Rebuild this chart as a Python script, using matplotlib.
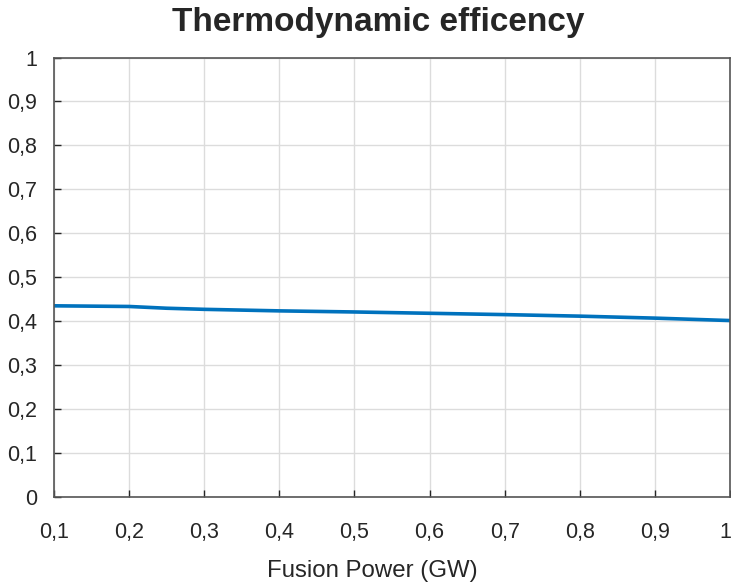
import matplotlib
matplotlib.use("Agg")
import matplotlib.pyplot as plt
import matplotlib.transforms as mtransforms
from matplotlib.ticker import FuncFormatter

power_gw = [0.1, 0.2, 0.25, 0.3, 0.4, 0.5, 0.6, 0.7, 0.8, 0.9, 1.0]
efficiency = [0.435, 0.4335, 0.4295, 0.427, 0.4235, 0.421, 0.418, 0.415, 0.4115, 0.407, 0.4015]
x_ticks = [0.1, 0.2, 0.3, 0.4, 0.5, 0.6, 0.7, 0.8, 0.9, 1.0]
y_ticks = [0, 0.1, 0.2, 0.3, 0.4, 0.5, 0.6, 0.7, 0.8, 0.9, 1.0]

plt.rcParams['font.family'] = ['Liberation Sans', 'DejaVu Sans']
dark = '#262626'

fig = plt.figure(figsize=(7.31, 5.87), dpi=100)
ax = fig.add_axes([54/731, 1-497/587, (730-54)/731, (497-57.5)/587])

ax.plot(power_gw, efficiency, color='#0072BD', lw=2.6)

def fmt(v, pos):
    s = ('%.1f' % v).rstrip('0').rstrip('.')
    return s.replace('.', ',')

ax.set_xlim(0.1, 1.0)
ax.set_ylim(0, 1)
ax.set_xticks(x_ticks)
ax.set_yticks(y_ticks)
ax.xaxis.set_major_formatter(FuncFormatter(fmt))
ax.yaxis.set_major_formatter(FuncFormatter(fmt))
ax.tick_params(direction='in', length=5, width=1, color=dark, labelcolor=dark,
               labelsize=15.5)
ax.tick_params(axis='x', pad=18)
ax.tick_params(axis='y', pad=12)
ax.grid(True, color='#dcdcdc', lw=1)
ax.set_axisbelow(True)
for sp in ax.spines.values():
    sp.set_color('#555555')
    sp.set_linewidth(1.2)

# keep the last x tick label inside the figure edge
last = ax.get_xticklabels()[-1]
last.set_transform(last.get_transform() +
                   mtransforms.ScaledTranslation(-5/100, 0, fig.dpi_scale_trans))

fig.text(378/731, 1-22/587, 'Thermodynamic efficency', ha='center', va='center',
         fontsize=24, fontweight='bold', color=dark)
fig.text(372/731, 1-571/587, 'Fusion Power (GW)', ha='center', va='center',
         fontsize=17.3, color=dark)

fig.savefig('out.png', dpi=100)
